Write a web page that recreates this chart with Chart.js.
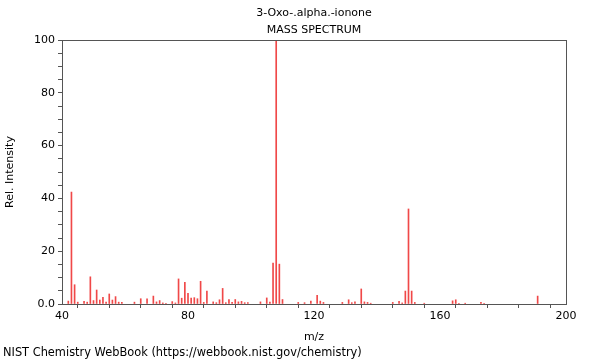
<!DOCTYPE html>
<html>
<head>
<meta charset="utf-8">
<script src="https://cdn.jsdelivr.net/npm/chart.js@4"></script>
<style>
  html, body { margin: 0; padding: 0; background: #fff; }
  #chart { display: block; }
</style>
</head>
<body>
<canvas id="chart" width="600" height="360"></canvas>
<script>
const compoundName = "3-Oxo-.alpha.-ionone";
const chartTitle = "MASS SPECTRUM";
const footerText = "NIST Chemistry WebBook (https://webbook.nist.gov/chemistry)";

const mz = [42, 43, 44, 45, 47, 48, 49, 50, 51, 52, 53, 54, 55, 56, 57, 58, 59,
  63, 65, 67, 69, 70, 71, 72, 73, 75, 76, 77, 78, 79, 80, 81, 82, 83, 84, 85, 86,
  88, 89, 90, 91, 92, 93, 94, 95, 96, 97, 98, 99, 103, 105, 106, 107, 108, 109, 110,
  115, 117, 119, 121, 122, 123, 129, 131, 132, 133, 135, 136, 137, 138,
  145, 147, 148, 149, 150, 151, 152, 155, 164, 165, 166, 168, 173, 174, 191];
const intensity = [1.1, 42.4, 7.3, 0.7, 1.0, 0.7, 10.3, 1.3, 5.3, 1.5, 2.5, 0.7, 3.8, 1.5, 2.8, 0.7, 0.6,
  0.7, 2.0, 2.0, 3.0, 0.8, 1.3, 0.4, 0.3, 0.9, 0.4, 9.5, 2.2, 8.2, 4.0, 2.2, 2.4, 2.0, 8.6, 0.6, 4.9,
  0.8, 0.5, 1.6, 5.9, 0.5, 1.7, 0.6, 1.7, 0.8, 1.0, 0.5, 0.5, 0.8, 2.3, 0.7, 15.5, 100, 15.1, 1.7,
  0.6, 0.5, 1.1, 3.3, 1.1, 0.6, 0.6, 1.6, 0.5, 0.8, 5.7, 0.8, 0.6, 0.3,
  0.6, 1.0, 0.4, 4.9, 36.0, 4.9, 0.6, 0.3, 1.2, 1.6, 0.3, 0.3, 0.6, 0.3, 3.0];

const xMin = 40, xMax = 200, xStep = 10, xLabelEvery = 40;
const yMin = 0, yMax = 100, yStep = 5, yLabelEvery = 20;

const font = { family: "'DejaVu Sans', sans-serif", size: 11 };
const axisColor = "#555";

// frame round the plot plus title and footer lines
const decorations = {
  id: "decorations",
  afterDraw(chart) {
    const { ctx, chartArea: a } = chart;
    ctx.save();
    ctx.strokeStyle = axisColor;
    ctx.lineWidth = 1;
    ctx.strokeRect(a.left + 0.5, a.top + 0.5, a.right - a.left, a.bottom - a.top);
    ctx.fillStyle = "#000";
    ctx.font = `${font.size}px ${font.family}`;
    ctx.textAlign = "center";
    ctx.textBaseline = "middle";
    const cx = (a.left + a.right) / 2;
    ctx.fillText(compoundName, cx, 13);
    ctx.fillText(chartTitle, cx, 30);
    ctx.textAlign = "left";
    ctx.font = `11.4px ${font.family}`;
    ctx.fillText(footerText, 3, 353);
    ctx.restore();
  },
};

new Chart(document.getElementById("chart"), {
  type: "bar",
  data: {
    datasets: [{
      data: mz.map((m, i) => ({ x: m, y: intensity[i] })),
      backgroundColor: "#f04848",
      borderWidth: 0,
      barThickness: 1,
    }],
  },
  options: {
    responsive: false,
    animation: false,
    devicePixelRatio: 1,
    layout: { padding: { top: 40, right: 34, left: 0, bottom: 16 } },
    plugins: { legend: { display: false }, tooltip: { enabled: false } },
    scales: {
      x: {
        type: "linear",
        min: xMin,
        max: xMax,
        offset: false,
        afterFit: (scale) => { scale.height = 40; },
        grid: { drawOnChartArea: false, tickLength: 4, color: axisColor },
        border: { color: axisColor },
        ticks: {
          stepSize: xStep,
          autoSkip: false,
          maxRotation: 0,
          color: "#000",
          font,
          padding: 2,
          callback: (v) => (v % xLabelEvery === 0 ? String(v) : ""),
        },
        title: { display: true, text: "m/z", color: "#000", font, padding: { top: 0, bottom: 0 } },
      },
      y: {
        min: yMin,
        max: yMax,
        afterFit: (scale) => { scale.width = 62; },
        grid: { drawOnChartArea: false, tickLength: 4, color: axisColor },
        border: { color: axisColor },
        ticks: {
          stepSize: yStep,
          autoSkip: false,
          color: "#000",
          font,
          padding: 3,
          callback: (v) => (v % yLabelEvery === 0 ? (v === 0 ? "0.0" : String(v)) : ""),
        },
        title: { display: true, text: "Rel. Intensity", color: "#000", font, padding: { top: 4, bottom: 0 } },
      },
    },
  },
  plugins: [decorations],
});
</script>
</body>
</html>
